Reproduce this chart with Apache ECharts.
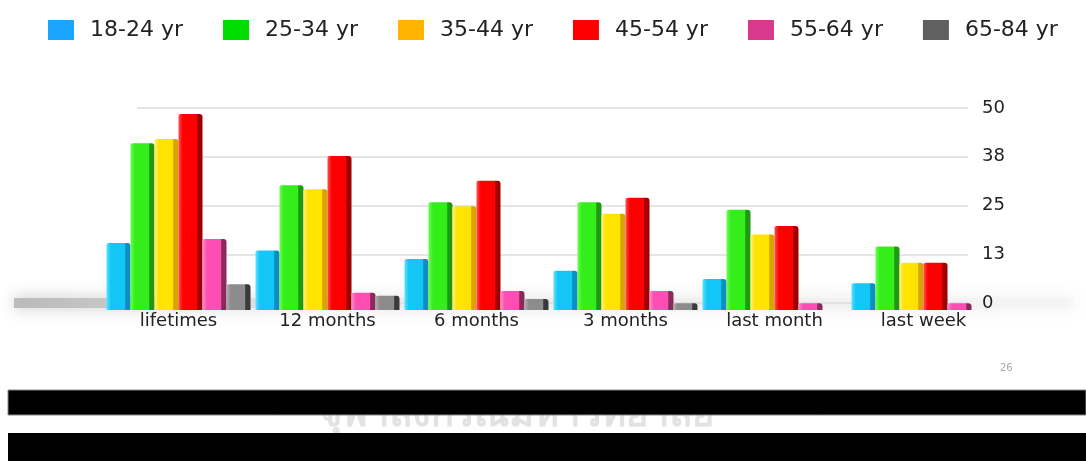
<!DOCTYPE html>
<html>
<head>
<meta charset="utf-8">
<script src="https://cdn.jsdelivr.net/npm/echarts@6/dist/echarts.min.js"></script>
<style>
  html, body { margin: 0; padding: 0; background: #fff; }
  #chart { width: 1086px; height: 461px; }
</style>
</head>
<body>
<div id="chart"></div>
<script>
const categories = ['lifetimes', '12 months', '6 months', '3 months', 'last month', 'last week']
const ageGroups = ['18-24 yr', '25-34 yr', '35-44 yr', '45-54 yr', '55-64 yr', '65-84 yr']

const age18to24 = [16.6, 14.7, 12.6, 9.7, 7.7, 6.6]
const age25to34 = [41.3, 30.9, 26.7, 26.7, 24.8, 15.7]
const age35to44 = [42.3, 29.9, 25.7, 23.8, 18.7, 11.7]
const age45to54 = [48.5, 38.1, 32.0, 27.8, 20.8, 11.7]
const age55to64 = [17.6, 4.3, 4.7, 4.7, 1.7, 1.7]
const age65to84 = [6.4, 3.5, 2.7, 1.7, 0, 0]

const yTicks = [0, 12.5, 25, 37.5, 50]

const seriesData = [age18to24, age25to34, age35to44, age45to54, age55to64, age65to84]
// legend swatches and bar faces use different shades in the original
const legendColors = ['#1aa6ff', '#00dd00', '#ffb400', '#ff0000', '#d9398a', '#606060']
const barColors = [
  ['#5fe0ff', '#12c6f6', '#0a8fc0'],
  ['#6cff50', '#34ee1c', '#1f9a10'],
  ['#fff27a', '#ffe400', '#d9a300'],
  ['#ff5050', '#ff0000', '#a00000'],
  ['#ff8fd0', '#ff4db3', '#8a2a5a'],
  ['#b0b0b0', '#8c8c8c', '#3a3a3a']
]

const font = 'DejaVu Sans'

function barFill(c) {
  return new echarts.graphic.LinearGradient(0, 0, 1, 0, [
    {offset: 0, color: c[0]},
    {offset: 0.18, color: c[1]},
    {offset: 0.76, color: c[1]},
    {offset: 0.8, color: c[2]},
    {offset: 1, color: c[2]}
  ])
}

const chart = echarts.init(document.getElementById('chart'), null, {renderer: 'canvas'})

const option = {
  backgroundColor: '#fff',
  animation: false,
  legend: {
    left: 43,
    top: 14,
    itemWidth: 26,
    itemHeight: 20,
    itemGap: 40,
    icon: 'rect',
    textStyle: {fontFamily: font, fontSize: 22, color: '#222', padding: [0, 0, 0, 11]},
    data: ageGroups.map((n, i) => ({name: n, itemStyle: {color: legendColors[i]}}))
  },
  grid: [
    {left: 104, width: 894, top: 108, bottom: 151},
    {left: 137, right: 118, top: 108, bottom: 158}
  ],
  xAxis: [
    {
      type: 'category', gridIndex: 0, data: categories,
      axisLine: {show: false}, axisTick: {show: false},
      axisLabel: {fontFamily: font, fontSize: 18, color: '#222', margin: 2}
    },
    {type: 'value', gridIndex: 1, show: false, min: 0, max: 1}
  ],
  yAxis: [
    {type: 'value', gridIndex: 0, min: 0, max: 50, show: false},
    {
      type: 'value', gridIndex: 1, position: 'right', min: yTicks[0], max: yTicks[yTicks.length - 1],
      interval: yTicks[1] - yTicks[0],
      axisLine: {show: false}, axisTick: {show: false},
      splitLine: {lineStyle: {color: '#dcdcdc', width: 1.5}},
      axisLabel: {fontFamily: font, fontSize: 18, color: '#222', margin: 14,
        formatter: v => Math.round(v)}
    }
  ],
  graphic: [
    {
      type: 'rect', z: -5, silent: true,
      shape: {x: 14, y: 298, width: 1060, height: 10},
      style: {
        fill: new echarts.graphic.LinearGradient(0, 0, 1, 0, [
          {offset: 0, color: 'rgba(175,175,175,0.8)'},
          {offset: 0.09, color: 'rgba(185,185,185,0.7)'},
          {offset: 0.3, color: 'rgba(225,225,225,0.45)'},
          {offset: 1, color: 'rgba(240,240,240,0.25)'}
        ]),
        shadowBlur: 16, shadowColor: 'rgba(170,170,170,0.9)'
      }
    },
    {
      type: 'text', z: 1, silent: true, left: 1000, top: 363,
      style: {text: '26', fill: '#aaa', font: '10px "DejaVu Sans"'}
    },
    {
      type: 'text', z: 1, silent: true, x: 517, y: 434,
      style: {text: 'จุฬาลงกรณ์มหาวิทยาลัย', fill: '#e2e2e2',
        font: 'bold 38px "Noto Sans", "DejaVu Sans"', align: 'center', verticalAlign: 'bottom'}
    },
    {
      type: 'rect', z: 10, silent: true,
      shape: {x: 8, y: 390, width: 1078, height: 25},
      style: {fill: '#000', stroke: '#888', lineWidth: 1}
    },
    {
      type: 'rect', z: 10, silent: true,
      shape: {x: 8, y: 433, width: 1078, height: 28},
      style: {fill: '#000'}
    }
  ],
  series: seriesData.map((d, i) => ({
    name: ageGroups[i],
    type: 'bar',
    xAxisIndex: 0,
    yAxisIndex: 0,
    barWidth: 24,
    barGap: '0%',
    data: d,
    itemStyle: {color: barFill(barColors[i]), borderRadius: [2, 3, 0, 0]}
  }))
}

chart.setOption(option)
window.addEventListener('resize', () => { chart.resize() })
</script>
</body>
</html>
